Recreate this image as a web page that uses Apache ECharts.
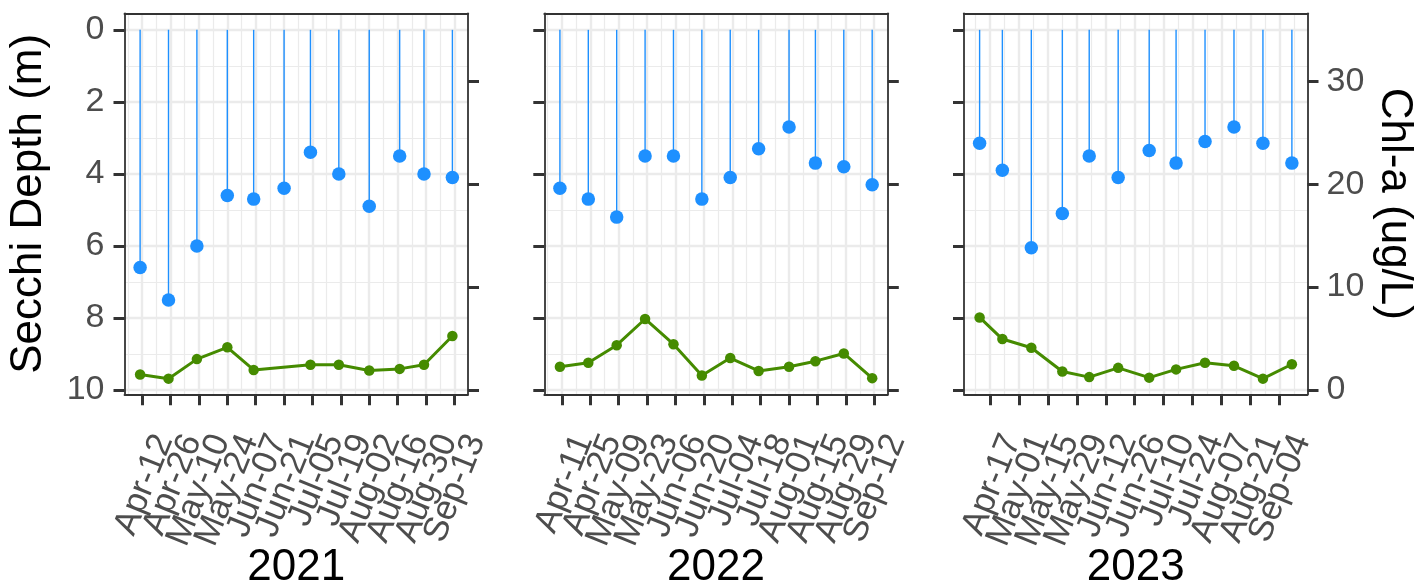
<!DOCTYPE html>
<html>
<head>
<meta charset="utf-8">
<script src="https://cdn.jsdelivr.net/npm/echarts@6/dist/echarts.min.js"></script>
<style>
html,body{margin:0;padding:0;background:#fff;}
#chart{width:1427px;height:585px;}
</style>
</head>
<body>
<div id="chart"></div>
<script>
// ---------------- data ----------------
const years = [2021, 2022, 2023];

const dates2021  = ['2021-04-11','2021-04-25','2021-05-09','2021-05-24','2021-06-06','2021-06-21','2021-07-04','2021-07-18','2021-08-02','2021-08-17','2021-08-29','2021-09-12'];
const secchi2021 = [6.6, 7.5, 6.0, 4.6, 4.7, 4.4, 3.4, 4.0, 4.9, 3.5, 4.0, 4.1];
const chl2021    = [1.5, 1.1, 3.0, 4.15, 1.95, null, 2.45, 2.45, 1.9, 2.05, 2.45, 5.25];
const ticks2021  = ['2021-04-12','2021-04-26','2021-05-10','2021-05-24','2021-06-07','2021-06-21','2021-07-05','2021-07-19','2021-08-02','2021-08-16','2021-08-30','2021-09-13'];

const dates2022  = ['2022-04-10','2022-04-24','2022-05-08','2022-05-22','2022-06-05','2022-06-19','2022-07-03','2022-07-17','2022-08-01','2022-08-14','2022-08-28','2022-09-11'];
const secchi2022 = [4.4, 4.7, 5.2, 3.5, 3.5, 4.7, 4.1, 3.3, 2.7, 3.7, 3.8, 4.3];
const chl2022    = [2.25, 2.65, 4.35, 6.9, 4.45, 1.4, 3.1, 1.85, 2.25, 2.8, 3.55, 1.15];
const ticks2022  = ['2022-04-11','2022-04-25','2022-05-09','2022-05-23','2022-06-06','2022-06-20','2022-07-04','2022-07-18','2022-08-01','2022-08-15','2022-08-29','2022-09-12'];

const dates2023  = ['2023-04-12','2023-04-23','2023-05-07','2023-05-22','2023-06-04','2023-06-18','2023-07-03','2023-07-16','2023-07-30','2023-08-13','2023-08-27','2023-09-10'];
const secchi2023 = [3.15, 3.9, 6.05, 5.1, 3.5, 4.1, 3.35, 3.7, 3.1, 2.7, 3.15, 3.7];
const chl2023    = [7.05, 4.95, 4.1, 1.8, 1.25, 2.15, 1.2, 2.0, 2.65, 2.35, 1.1, 2.5];
const ticks2023  = ['2023-04-17','2023-05-01','2023-05-15','2023-05-29','2023-06-12','2023-06-26','2023-07-10','2023-07-24','2023-08-07','2023-08-21','2023-09-04'];

const depthTicks = [0, 2, 4, 6, 8, 10];
const depthMinorTicks = [1, 3, 5, 7, 9];
const chlTicks = [0, 10, 20, 30];

// ---------------- helpers ----------------
const FONT = "'Liberation Sans', Arial, Helvetica, sans-serif";
const MONTHS = ['Jan','Feb','Mar','Apr','May','Jun','Jul','Aug','Sep','Oct','Nov','Dec'];
function doy(s) {
  const p = s.split('-').map(Number);
  return (Date.UTC(p[0], p[1] - 1, p[2]) - Date.UTC(p[0], 0, 0)) / 86400000;
}
function fmtDay(year, v) {
  const dt = new Date(Date.UTC(year, 0, Math.round(v)));
  return MONTHS[dt.getUTCMonth()] + '-' + String(dt.getUTCDate()).padStart(2, '0');
}

const panels = [
  { year: years[0], dates: dates2021, secchi: secchi2021, chl: chl2021, ticks: ticks2021 },
  { year: years[1], dates: dates2022, secchi: secchi2022, chl: chl2022, ticks: ticks2022 },
  { year: years[2], dates: dates2023, secchi: secchi2023, chl: chl2023, ticks: ticks2023 }
];

// layout
const gridLefts = [124.5, 544.3, 964];
const gridTop = 13.3, gridW = 343.5, gridH = 381;
const depthMin = -0.46, depthMax = 10.12;
// secondary axis: chl = (10 - depth) * 3.5
const chlMin = (10 - depthMax) * 3.5, chlMax = (10 - depthMin) * 3.5;

const BORDER = '#333333', GRIDC = '#EBEBEB', TXT = '#4D4D4D';
const BLUE = '#1E90FF', GREEN = '#458B00';
const TICKFS = 34;

const grid = [], xAxis = [], yAxis = [], series = [];

panels.forEach((pn, p) => {
  const xs = pn.dates.map(doy);
  const lo = Math.min(...xs), hi = Math.max(...xs);
  const pad = (hi - lo) * 0.05;
  const xmin = lo - pad, xmax = hi + pad;
  const tickVals = pn.ticks.map(doy);
  const minorVals = [tickVals[0] - 7].concat(tickVals.map(t => t + 7)).filter(v => v > xmin && v < xmax);
  // blank guard labels at both ends so that no real label is dropped by overlap checks
  const guardLo = xmin + 0.05, guardHi = xmax - 0.05;
  const labelVals = [guardLo].concat(tickVals, [guardHi]);

  grid.push({ left: gridLefts[p], top: gridTop, width: gridW, height: gridH, containLabel: false, outerBoundsMode: 'none', show: false });

  // major x axis (bottom border, ticks, major grid, year title)
  xAxis.push({
    type: 'value', gridIndex: p, position: 'bottom', min: xmin, max: xmax,
    name: String(pn.year), nameLocation: 'middle', nameGap: 152,
    nameTextStyle: { fontFamily: FONT, fontSize: 44, color: '#000', lineHeight: 44 },
    axisLine: { show: true, onZero: false, lineStyle: { color: BORDER, width: 1.8 } },
    axisTick: { show: true, length: 11, customValues: tickVals, lineStyle: { color: BORDER, width: 3 } },
    axisLabel: { show: false },
    splitLine: { show: true, lineStyle: { color: GRIDC, width: 2.4 } }
  });
  // minor x axis (top border + minor grid)
  xAxis.push({
    type: 'value', gridIndex: p, position: 'top', min: xmin, max: xmax,
    axisLine: { show: true, onZero: false, lineStyle: { color: BORDER, width: 1.8 } },
    axisTick: { show: false, customValues: minorVals },
    axisLabel: { show: false, customValues: minorVals },
    splitLine: { show: true, lineStyle: { color: GRIDC, width: 1.2 } }
  });
  // label-only x axis
  xAxis.push({
    type: 'value', gridIndex: p, position: 'bottom', min: xmin, max: xmax,
    axisLine: { show: false, onZero: false },
    axisTick: { show: false },
    splitLine: { show: false },
    axisLabel: {
      show: true, customValues: labelVals,
      formatter: v => (v === guardLo || v === guardHi) ? ' ' : fmtDay(pn.year, v),
      rotate: 68, align: 'right', verticalAlign: 'top', lineHeight: 47, margin: 33,
      fontFamily: FONT, fontSize: 35, color: TXT
    }
  });

  // depth axis (left)
  yAxis.push({
    type: 'value', gridIndex: p, position: 'left', inverse: true, min: depthMin, max: depthMax,
    name: p === 0 ? 'Secchi Depth (m)' : '', nameLocation: 'middle', nameGap: 74, nameRotate: 90,
    nameTextStyle: { fontFamily: FONT, fontSize: 44, color: '#000', lineHeight: 44 },
    axisLine: { show: true, onZero: false, lineStyle: { color: BORDER, width: 1.8 } },
    axisTick: { show: true, length: 11, customValues: depthTicks, lineStyle: { color: BORDER, width: 3 } },
    axisLabel: { show: p === 0, customValues: depthTicks, margin: 20, fontFamily: FONT, fontSize: TICKFS, color: TXT },
    splitLine: { show: true, lineStyle: { color: GRIDC, width: 2.4 } }
  });
  // chl axis (right)
  yAxis.push({
    type: 'value', gridIndex: p, position: 'right', min: chlMin, max: chlMax,
    name: p === 2 ? 'Chl-a (ug/L)' : '', nameLocation: 'middle', nameGap: 65, nameRotate: -90,
    nameTextStyle: { fontFamily: FONT, fontSize: 44, color: '#000', lineHeight: 44 },
    axisLine: { show: true, onZero: false, lineStyle: { color: BORDER, width: 1.8 } },
    axisTick: { show: true, length: 11, customValues: chlTicks, lineStyle: { color: BORDER, width: 3 } },
    axisLabel: { show: p === 2, customValues: chlTicks, margin: 19, fontFamily: FONT, fontSize: TICKFS, color: TXT },
    splitLine: { show: false }
  });
  // minor depth grid (hidden axis)
  yAxis.push({
    type: 'value', gridIndex: p, position: 'left', inverse: true, min: depthMin, max: depthMax,
    axisLine: { show: false, onZero: false },
    axisTick: { show: false, customValues: depthMinorTicks },
    axisLabel: { show: false, customValues: depthMinorTicks },
    splitLine: { show: true, lineStyle: { color: GRIDC, width: 1.2 } }
  });

  const xi = p * 3, yd = p * 3, yc = p * 3 + 1;
  series.push({
    type: 'bar', xAxisIndex: xi, yAxisIndex: yd, barWidth: 1.4, silent: true, z: 2,
    itemStyle: { color: BLUE },
    data: xs.map((x, i) => [x, pn.secchi[i]])
  });
  series.push({
    type: 'scatter', xAxisIndex: xi, yAxisIndex: yd, symbol: 'circle', symbolSize: 13.5, silent: true, z: 3,
    itemStyle: { color: BLUE, opacity: 1 },
    data: xs.map((x, i) => [x, pn.secchi[i]])
  });
  series.push({
    type: 'line', xAxisIndex: xi, yAxisIndex: yc, symbol: 'circle', symbolSize: 10.5, showSymbol: true,
    connectNulls: true, silent: true, z: 4,
    lineStyle: { color: GREEN, width: 3 },
    itemStyle: { color: GREEN, borderWidth: 0 },
    data: xs.map((x, i) => [x, pn.chl[i] == null ? '-' : pn.chl[i]])
  });
});

const chart = echarts.init(document.getElementById('chart'), null, { renderer: 'canvas' });
chart.setOption({
  backgroundColor: '#ffffff',
  animation: false,
  grid: grid,
  xAxis: xAxis,
  yAxis: yAxis,
  series: series
});
</script>
</body>
</html>
